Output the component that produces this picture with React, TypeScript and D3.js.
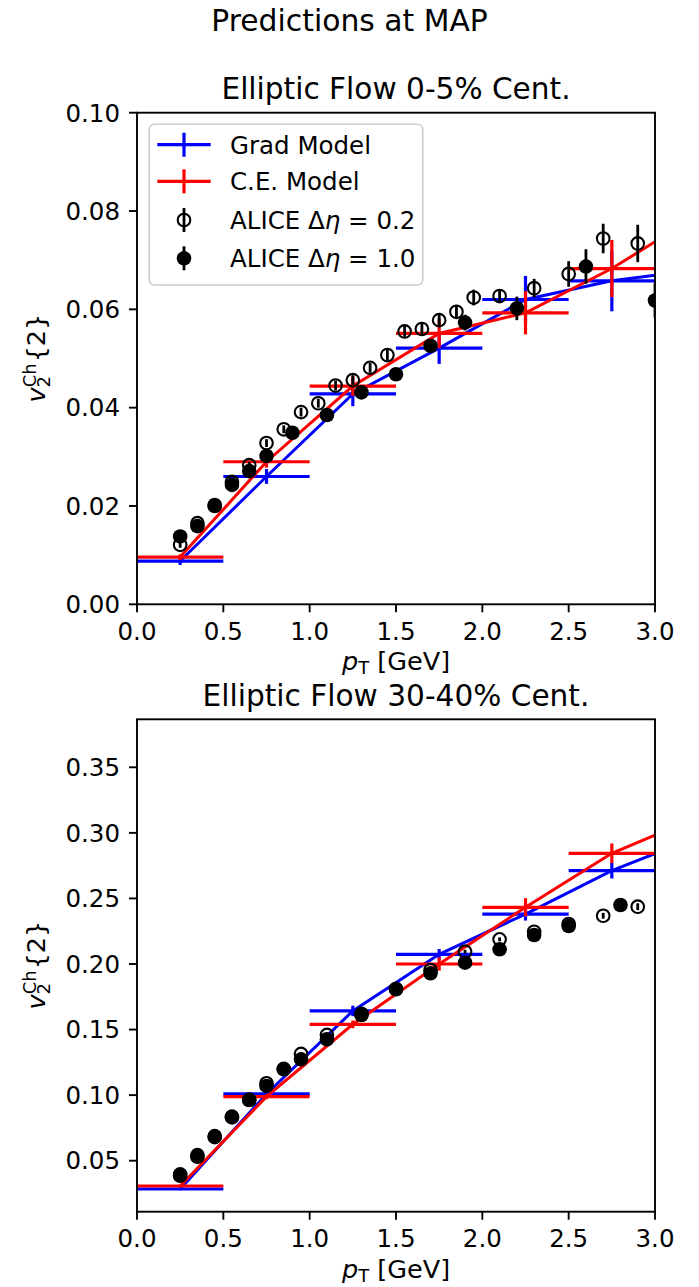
import React from "react";
import * as d3 from "d3";

// ---------- data ----------
const binCenters = [0.25, 0.75, 1.25, 1.75, 2.25, 2.75];
const binHalfWidth = 0.25;
// line continues past the last shown bin (clipped at the frame)
const lineExtraX = 3.25;

// Top panel: 0-5% centrality
const topGrad = [0.0088, 0.026, 0.0428, 0.0521, 0.062, 0.0658];
const topGradErr = [0.0008, 0.0015, 0.0025, 0.0032, 0.0048, 0.0062];
const topGradExtra = 0.0681;
const topCE = [0.0096, 0.029, 0.0444, 0.0551, 0.0593, 0.0683];
const topCEErr = [0.0006, 0.0012, 0.002, 0.003, 0.0044, 0.0058];
const topCEExtra = 0.0792;

const topOpenX = [0.25, 0.35, 0.45, 0.55, 0.65, 0.75, 0.85, 0.95, 1.05, 1.15, 1.25, 1.35, 1.45, 1.55, 1.65, 1.75, 1.85, 1.95, 2.1, 2.3, 2.5, 2.7, 2.9];
const topOpenY = [0.0121, 0.0165, 0.02, 0.0249, 0.0283, 0.0328, 0.0356, 0.0391, 0.0409, 0.0445, 0.0456, 0.0481, 0.0507, 0.0555, 0.056, 0.0578, 0.0595, 0.0624, 0.0627, 0.0643, 0.0672, 0.0744, 0.0734];
const topOpenErr = [0.0006, 0.0006, 0.0006, 0.0007, 0.0007, 0.0008, 0.0008, 0.0009, 0.0009, 0.001, 0.001, 0.001, 0.0011, 0.0011, 0.0012, 0.0013, 0.0014, 0.0016, 0.0013, 0.0019, 0.0026, 0.003, 0.0038];

const topFilledX = [0.25, 0.35, 0.45, 0.55, 0.65, 0.75, 0.9, 1.1, 1.3, 1.5, 1.7, 1.9, 2.2, 2.6, 3.0];
const topFilledY = [0.0138, 0.0159, 0.0202, 0.0243, 0.0271, 0.0302, 0.0349, 0.0385, 0.0431, 0.0468, 0.0526, 0.0573, 0.0602, 0.0687, 0.0618];
const topFilledErr = [0.0005, 0.0005, 0.0005, 0.0006, 0.0006, 0.0006, 0.0007, 0.0008, 0.0009, 0.0012, 0.0013, 0.0016, 0.0024, 0.0035, 0.0035];

// Bottom panel: 30-40% centrality
const botGrad = [0.0284, 0.1009, 0.1642, 0.2074, 0.2381, 0.2712];
const botGradErr = [0.001, 0.002, 0.004, 0.004, 0.005, 0.006];
const botGradExtra = 0.297;
const botCE = [0.0307, 0.0988, 0.154, 0.2, 0.2432, 0.2844];
const botCEErr = [0.001, 0.002, 0.003, 0.005, 0.007, 0.0075];
const botCEExtra = 0.312;

const botOpenX = [0.25, 0.35, 0.45, 0.55, 0.65, 0.75, 0.85, 0.95, 1.1, 1.3, 1.5, 1.7, 1.9, 2.1, 2.3, 2.5, 2.7, 2.9];
const botOpenY = [0.0385, 0.053, 0.068, 0.083, 0.0965, 0.109, 0.12, 0.1314, 0.1459, 0.162, 0.181, 0.1954, 0.2094, 0.2188, 0.2246, 0.2305, 0.2368, 0.2437];
const botOpenErr = [0.001, 0.001, 0.001, 0.001, 0.001, 0.001, 0.001, 0.001, 0.001, 0.001, 0.0012, 0.0012, 0.0014, 0.0015, 0.0016, 0.0018, 0.0022, 0.0026];

const botFilledX = [0.25, 0.35, 0.45, 0.55, 0.65, 0.75, 0.85, 0.95, 1.1, 1.3, 1.5, 1.7, 1.9, 2.1, 2.3, 2.5, 2.8];
const botFilledY = [0.0396, 0.0543, 0.0688, 0.0836, 0.0963, 0.107, 0.1197, 0.1273, 0.1426, 0.1611, 0.1807, 0.1929, 0.201, 0.2112, 0.2221, 0.229, 0.245];
const botFilledErr = [0.001, 0.001, 0.001, 0.001, 0.001, 0.001, 0.001, 0.001, 0.001, 0.001, 0.0012, 0.0012, 0.0014, 0.0015, 0.0016, 0.0018, 0.0022];

const xTicks = [0, 0.5, 1.0, 1.5, 2.0, 2.5, 3.0];
const topYTicks = [0, 0.02, 0.04, 0.06, 0.08, 0.1];
const botYTicks = [0.05, 0.1, 0.15, 0.2, 0.25, 0.3, 0.35];

const legendLabels = ["Grad Model", "C.E. Model"];

// ---------- layout ----------
const W = 699;
const H = 1287;
const FONT = "DejaVu Sans, sans-serif";
const BLUE = "#0000ff";
const RED = "#ff0000";
const X0 = 137;
const X1 = 655;

type PanelProps = {
  id: string;
  top: number;
  bottom: number;
  yDomain: [number, number];
  yTicks: number[];
  title: string;
  grad: number[];
  gradErr: number[];
  gradExtra: number;
  ce: number[];
  ceErr: number[];
  ceExtra: number;
  openX: number[];
  openY: number[];
  openErr: number[];
  filledX: number[];
  filledY: number[];
  filledErr: number[];
  legend: boolean;
};

function ModelSeries({ x, y, vals, errs, extra, color }: any) {
  const pts: [number, number][] = binCenters.map((c, i) => [x(c), y(vals[i])]);
  pts.push([x(lineExtraX), y(extra)]);
  const line = d3.line()(pts) || "";
  return (
    <g>
      <path d={line} fill="none" stroke={color} strokeWidth={3} />
      {binCenters.map((c, i) => (
        <g key={i}>
          <line x1={x(c - binHalfWidth)} x2={x(c + binHalfWidth)} y1={y(vals[i])} y2={y(vals[i])} stroke={color} strokeWidth={3.2} />
          <line x1={x(c)} x2={x(c)} y1={y(vals[i] - errs[i])} y2={y(vals[i] + errs[i])} stroke={color} strokeWidth={3.2} />
        </g>
      ))}
    </g>
  );
}

function DataSeries({ x, y, xs, ys, errs, filled }: any) {
  return (
    <g>
      {xs.map((xv: number, i: number) => (
        <g key={i}>
          <line x1={x(xv)} x2={x(xv)} y1={y(ys[i] - errs[i])} y2={y(ys[i] + errs[i])} stroke="#000" strokeWidth={2.8} />
          {filled ? (
            <circle cx={x(xv)} cy={y(ys[i])} r={7.3} fill="#000" />
          ) : (
            <circle cx={x(xv)} cy={y(ys[i])} r={6.3} fill="none" stroke="#000" strokeWidth={2.1} />
          )}
        </g>
      ))}
    </g>
  );
}

function Panel(p: PanelProps) {
  const x = d3.scaleLinear().domain([0, 3]).range([X0, X1]);
  const y = d3.scaleLinear().domain(p.yDomain).range([p.bottom, p.top]);
  const yFmt = d3.format(".2f");
  const xFmt = d3.format(".1f");
  const cx = (X0 + X1) / 2;
  const cy = (p.top + p.bottom) / 2;
  const clipId = "clip-" + p.id;
  return (
    <g>
      <defs>
        <clipPath id={clipId}>
          <rect x={X0} y={p.top} width={X1 - X0} height={p.bottom - p.top} />
        </clipPath>
      </defs>
      <text x={cx} y={p.top - 13.5} textAnchor="middle" fontSize={29.6} fontFamily={FONT}>
        {p.title}
      </text>
      <g clipPath={`url(#${clipId})`}>
        <ModelSeries x={x} y={y} vals={p.grad} errs={p.gradErr} extra={p.gradExtra} color={BLUE} />
        <ModelSeries x={x} y={y} vals={p.ce} errs={p.ceErr} extra={p.ceExtra} color={RED} />
        <DataSeries x={x} y={y} xs={p.openX} ys={p.openY} errs={p.openErr} filled={false} />
        <DataSeries x={x} y={y} xs={p.filledX} ys={p.filledY} errs={p.filledErr} filled={true} />
      </g>
      {/* frame */}
      <rect x={X0} y={p.top} width={X1 - X0} height={p.bottom - p.top} fill="none" stroke="#000" strokeWidth={1.9} />
      {/* y ticks */}
      {p.yTicks.map((t) => (
        <g key={"y" + t}>
          <line x1={X0 - 8} x2={X0} y1={y(t)} y2={y(t)} stroke="#000" strokeWidth={1.9} />
          <text x={X0 - 17} y={y(t) + 8.8} textAnchor="end" fontSize={24.5} fontFamily={FONT}>
            {yFmt(t)}
          </text>
        </g>
      ))}
      {/* x ticks */}
      {xTicks.map((t) => (
        <g key={"x" + t}>
          <line x1={x(t)} x2={x(t)} y1={p.bottom} y2={p.bottom + 8} stroke="#000" strokeWidth={1.9} />
          <text x={x(t)} y={p.bottom + 35.5} textAnchor="middle" fontSize={24.5} fontFamily={FONT}>
            {xFmt(t)}
          </text>
        </g>
      ))}
      {/* x label */}
      <text x={cx - 54} y={p.bottom + 66} fontSize={25.5} fontFamily={FONT}>
        <tspan fontStyle="italic">p</tspan>
        <tspan fontSize={18} dy={4}>T</tspan>
        <tspan dy={-4}> [GeV]</tspan>
      </text>
      {/* y label */}
      <g transform={`translate(45,${cy}) rotate(-90)`}>
        <text x={-44} y={0} fontSize={25.5} fontFamily={FONT}>
          <tspan fontStyle="italic">v</tspan>
          <tspan fontSize={18} dy={5}>2</tspan>
          <tspan fontSize={18} dx={-11.4} dy={-14.5}>Ch</tspan>
          <tspan dx={1} dy={9.5}>{"{2}"}</tspan>
        </text>
      </g>
      {p.legend && <Legend />}
    </g>
  );
}

function Legend() {
  const lx = 149.3;
  const ly = 124.3;
  const lw = 273.4;
  const lh = 160.7;
  const hx = 184;
  const rows = [144.7, 181.3, 220, 258.3];
  const tx = 230;
  return (
    <g>
      <rect x={lx} y={ly} width={lw} height={lh} rx={5} ry={5} fill="#fff" fillOpacity={0.8} stroke="#cccccc" strokeWidth={1.6} />
      {[BLUE, RED].map((c, i) => (
        <g key={i}>
          <line x1={157.3} x2={210.7} y1={rows[i]} y2={rows[i]} stroke={c} strokeWidth={3.2} />
          <line x1={hx} x2={hx} y1={rows[i] - 12} y2={rows[i] + 12} stroke={c} strokeWidth={3.2} />
          <text x={tx} y={rows[i] + 8.8} fontSize={24.5} fontFamily={FONT}>
            {legendLabels[i]}
          </text>
        </g>
      ))}
      <line x1={hx} x2={hx} y1={rows[2] - 12} y2={rows[2] + 12} stroke="#000" strokeWidth={2.8} />
      <circle cx={hx} cy={rows[2]} r={6.3} fill="none" stroke="#000" strokeWidth={2.1} />
      <line x1={hx} x2={hx} y1={rows[3] - 12} y2={rows[3] + 12} stroke="#000" strokeWidth={2.8} />
      <circle cx={hx} cy={rows[3]} r={7.3} fill="#000" />
      {["0.2", "1.0"].map((v, i) => (
        <text key={v} x={tx} y={rows[2 + i] + 8.8} fontSize={24.5} fontFamily={FONT}>
          {"ALICE Δ"}
          <tspan fontStyle="italic">η</tspan>
          {" = " + v}
        </text>
      ))}
    </g>
  );
}

export default function App() {
  return (
    <svg width={W} height={H} style={{ position: "absolute", left: 0, top: 0, background: "#fff" }}>
      <rect x={0} y={0} width={W} height={H} fill="#fff" />
      <text x={W / 2} y={30.7} textAnchor="middle" fontSize={29.8} fontFamily={FONT}>
        Predictions at MAP
      </text>
      <Panel
        id="top"
        top={112.7}
        bottom={604.3}
        yDomain={[0, 0.1]}
        yTicks={topYTicks}
        title="Elliptic Flow 0-5% Cent."
        grad={topGrad}
        gradErr={topGradErr}
        gradExtra={topGradExtra}
        ce={topCE}
        ceErr={topCEErr}
        ceExtra={topCEExtra}
        openX={topOpenX}
        openY={topOpenY}
        openErr={topOpenErr}
        filledX={topFilledX}
        filledY={topFilledY}
        filledErr={topFilledErr}
        legend={true}
      />
      <Panel
        id="bot"
        top={719.3}
        bottom={1211.7}
        yDomain={[0.0111, 0.3866]}
        yTicks={botYTicks}
        title="Elliptic Flow 30-40% Cent."
        grad={botGrad}
        gradErr={botGradErr}
        gradExtra={botGradExtra}
        ce={botCE}
        ceErr={botCEErr}
        ceExtra={botCEExtra}
        openX={botOpenX}
        openY={botOpenY}
        openErr={botOpenErr}
        filledX={botFilledX}
        filledY={botFilledY}
        filledErr={botFilledErr}
        legend={false}
      />
    </svg>
  );
}
